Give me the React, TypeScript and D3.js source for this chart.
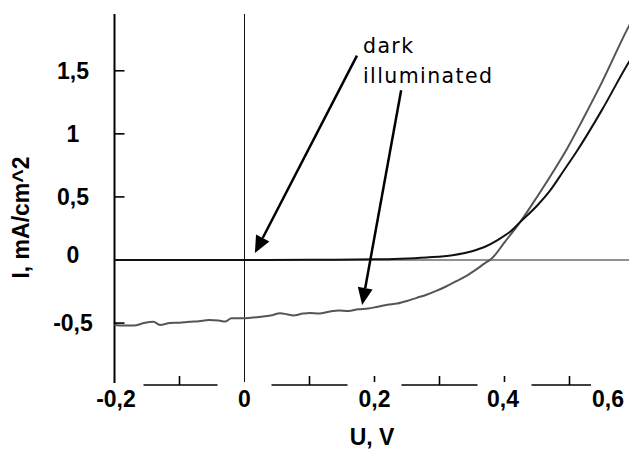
import React, { useEffect } from "react";
import * as d3 from "d3";

const W = 629;
const H = 450;

// Dark I-V curve (V in volts, I in mA/cm^2)
const darkV = [-0.2, 0.0, 0.1, 0.2, 0.24, 0.28, 0.32, 0.35, 0.37, 0.39, 0.41, 0.424, 0.45, 0.47, 0.49, 0.511, 0.55, 0.588, 0.595];
const darkI = [0.0, 0.0, 0.002, 0.005, 0.01, 0.02, 0.037, 0.07, 0.105, 0.16, 0.23, 0.30, 0.43, 0.55, 0.70, 0.86, 1.19, 1.54, 1.6];

// Illuminated I-V curve
const illumV = [-0.2, -0.185, -0.17, -0.155, -0.14, -0.13, -0.115, -0.1, -0.085, -0.07, -0.055, -0.04, -0.03, -0.02, -0.005, 0.01, 0.025, 0.04, 0.055, 0.065, 0.075, 0.09, 0.1, 0.115, 0.13, 0.145, 0.16, 0.175, 0.19, 0.205, 0.22, 0.235, 0.25, 0.265, 0.28, 0.295, 0.31, 0.325, 0.34, 0.355, 0.37, 0.38, 0.4, 0.424, 0.45, 0.47, 0.496, 0.52, 0.55, 0.588, 0.595];
const illumI = [-0.515, -0.52, -0.52, -0.5, -0.49, -0.515, -0.5, -0.497, -0.49, -0.485, -0.476, -0.48, -0.488, -0.462, -0.462, -0.458, -0.45, -0.44, -0.422, -0.43, -0.44, -0.425, -0.42, -0.425, -0.41, -0.4, -0.405, -0.39, -0.385, -0.37, -0.355, -0.345, -0.325, -0.3, -0.275, -0.245, -0.21, -0.17, -0.13, -0.08, -0.025, 0.01, 0.14, 0.3, 0.5, 0.66, 0.88, 1.11, 1.41, 1.82, 1.89];

const xMajorTicks = [-0.2, 0, 0.2, 0.4, 0.6];
const xMajorLabels = ["-0,2", "0", "0,2", "0,4", "0,6"];
const xMinorTicks = [-0.1, 0.1, 0.3, 0.5];
const yTicks = [1.5, 1, 0.5, 0, -0.5];
const yTickLabels = ["1,5", "1", "0,5", "0", "-0,5"];

const xTitle = "U, V";
const yTitle = "I, mA/cm^2";
const annDark = "dark";
const annIllum = "illuminated";

// annotation arrows in data coordinates: [startV, startI, tipV, tipI]
const darkArrow = [0.173, 1.62, 0.016, 0.055];
const illumArrow = [0.241, 1.346, 0.181, -0.356];

export default function App() {
  useEffect(() => {
    document.body.style.margin = "0";
  }, []);

  const x = d3.scaleLinear().domain([-0.2, 0.6]).range([114.5, 634.5]);
  const y = d3.scaleLinear().domain([-0.975, 1.95]).range([383, 14]);

  const line = d3
    .line<[number, number]>()
    .x((d) => x(d[0]))
    .y((d) => y(d[1]))
    .curve(d3.curveMonotoneX);

  const darkPts = darkV.map((v, i) => [v, darkI[i]] as [number, number]);
  const illumPts = illumV.map((v, i) => [v, illumI[i]] as [number, number]);

  const bold = "'Liberation Sans', Arial, sans-serif";
  const axisY = 385;

  // label centres (last one clamped inside the picture)
  const labelX = xMajorTicks.map((t) => Math.min(x(t), 608));
  labelX[0] = 116;
  labelX[3] = 503;

  // broken axis line segments between labels
  const gapL = [0, 27, 27, 27, 17];
  const gapR = [29, 27, 27, 27, 0];
  const segs: [number, number][] = [];
  for (let i = 0; i < xMajorTicks.length - 1; i++) {
    const a = x(xMajorTicks[i]) + gapR[i];
    const b = i === xMajorTicks.length - 2 ? 591 : x(xMajorTicks[i + 1]) - gapL[i + 1];
    segs.push([a, b]);
  }

  const arrow = (a: number[], key: string) => {
    const x1 = x(a[0]), y1 = y(a[1]), x2 = x(a[2]), y2 = y(a[3]);
    const ang = Math.atan2(y2 - y1, x2 - x1);
    const len = 17, hw = 7.5;
    const bx = x2 - len * Math.cos(ang);
    const by = y2 - len * Math.sin(ang);
    const px = -Math.sin(ang), py = Math.cos(ang);
    const pts = `${x2},${y2} ${bx + hw * px},${by + hw * py} ${bx - hw * px},${by - hw * py}`;
    return (
      <g key={key}>
        <line x1={x1} y1={y1} x2={bx} y2={by} stroke="#000" strokeWidth={2.5} />
        <polygon points={pts} fill="#000" />
      </g>
    );
  };

  return (
    <svg width={W} height={H} style={{ display: "block", background: "#fff" }}>
      <rect x={0} y={0} width={W} height={H} fill="#fff" />
      {/* vertical line at U=0 */}
      <line x1={x(0)} x2={x(0)} y1={14} y2={382} stroke="#111" strokeWidth={1} />
      {/* zero line */}
      <line x1={x(-0.2)} x2={W} y1={y(0)} y2={y(0)} stroke="#222" strokeWidth={1.2} />
      {/* y axis */}
      <line x1={x(-0.2)} x2={x(-0.2)} y1={14} y2={383} stroke="#000" strokeWidth={2} />
      {yTicks.filter((t) => t !== 0).map((t) => (
        <line key={"yt" + t} x1={x(-0.2)} x2={x(-0.2) + 10} y1={y(t)} y2={y(t)} stroke="#000" strokeWidth={1.6} />
      ))}
      {yTicks.map((t, i) => (
        <text
          key={"yl" + t}
          x={73}
          y={y(t) + (t === 0 ? -5 : 0)}
          dy="0.36em"
          textAnchor="middle"
          fontFamily={bold}
          fontWeight="bold"
          fontSize={23}
          fill="#000"
        >
          {yTickLabels[i]}
        </text>
      ))}
      {/* x axis */}
      {segs.map((s, i) => (
        <line key={"seg" + i} x1={s[0]} x2={s[1]} y1={axisY} y2={axisY} stroke="#000" strokeWidth={1.6} />
      ))}
      {xMinorTicks.map((t) => (
        <line key={"xm" + t} x1={x(t)} x2={x(t)} y1={376} y2={axisY} stroke="#000" strokeWidth={1.6} />
      ))}
      {xMajorTicks.slice(2, 4).map((t) => (
        <line key={"xM" + t} x1={x(t)} x2={x(t)} y1={376} y2={382} stroke="#000" strokeWidth={1.6} />
      ))}
      {xMajorTicks.map((t, i) => (
        <text
          key={"xl" + t}
          x={labelX[i]}
          y={407}
          textAnchor="middle"
          fontFamily={bold}
          fontWeight="bold"
          fontSize={23}
          fill="#000"
        >
          {xMajorLabels[i]}
        </text>
      ))}
      <text x={372} y={445} textAnchor="middle" fontFamily={bold} fontWeight="bold" fontSize={23} fill="#000">
        {xTitle}
      </text>
      <text
        transform="translate(28.5,217.5) rotate(-90)"
        textAnchor="middle"
        fontFamily={bold}
        fontWeight="bold"
        fontSize={23}
        fill="#000"
      >
        {yTitle}
      </text>
      {/* curves */}
      <path d={line(illumPts) || ""} fill="none" stroke="#555" strokeWidth={2} />
      <path d={line(darkPts) || ""} fill="none" stroke="#111" strokeWidth={2} />
      {/* annotations */}
      {arrow(darkArrow, "a1")}
      {arrow(illumArrow, "a2")}
      <text x={363} y={53} fontFamily="'DejaVu Sans', sans-serif" fontSize={20.5} letterSpacing={1.4} fill="#000">
        {annDark}
      </text>
      <text x={363} y={83} fontFamily="'DejaVu Sans', sans-serif" fontSize={20.5} letterSpacing={1.4} fill="#000">
        {annIllum}
      </text>
    </svg>
  );
}
